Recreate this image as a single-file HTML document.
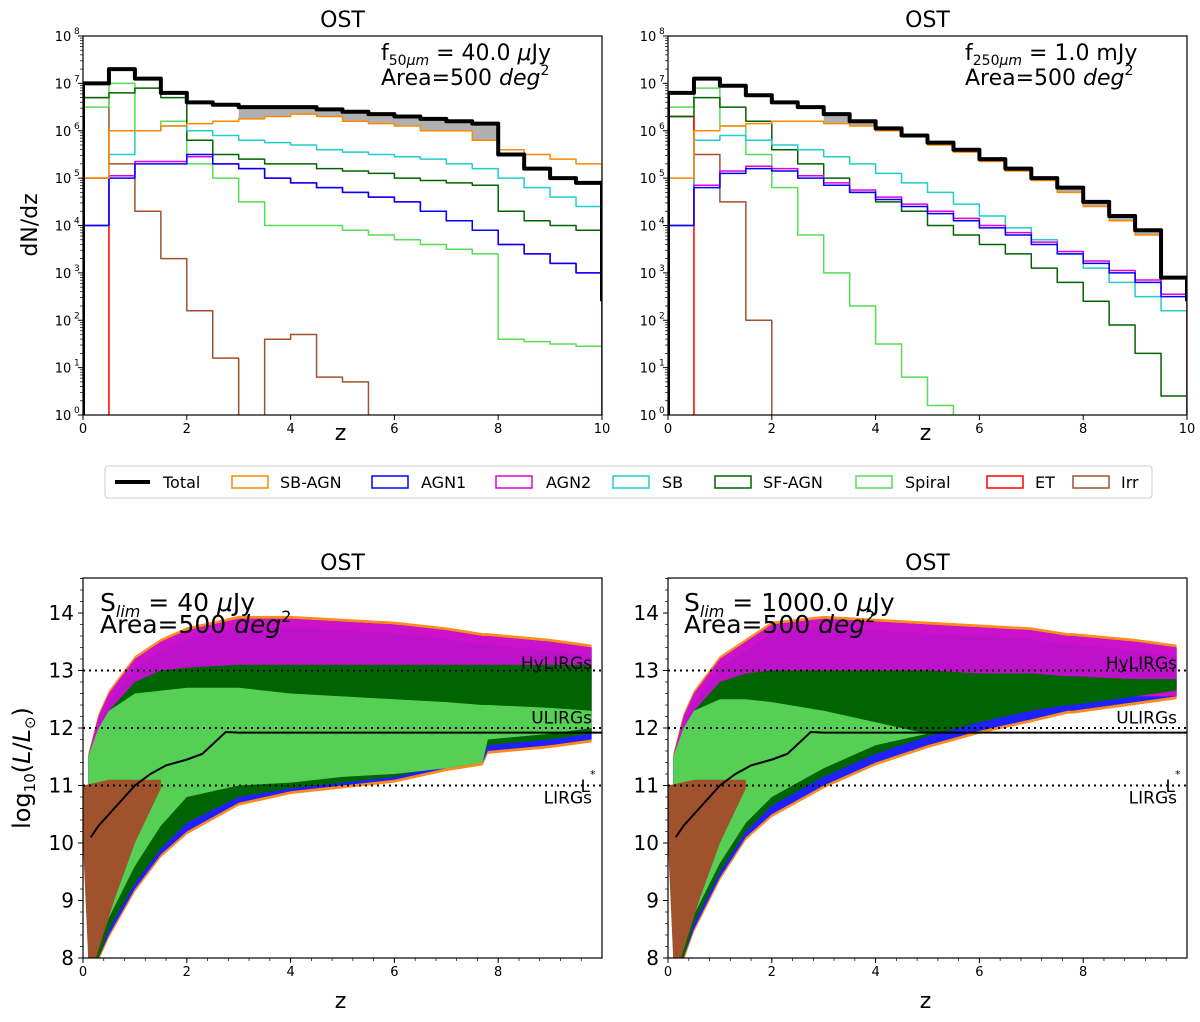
<!DOCTYPE html>
<html><head><meta charset="utf-8"><style>
body{margin:0;background:#fff;font-family:"Liberation Sans","DejaVu Sans",sans-serif}
svg text{font-family:"DejaVu Sans","Liberation Sans",sans-serif}
</style></head><body>
<svg id="fig" width="1200" height="1017" xmlns="http://www.w3.org/2000/svg">
<defs>
<clipPath id="c1"><rect x="83" y="36" width="519" height="379"/></clipPath>
<clipPath id="c2"><rect x="668" y="36" width="519" height="379"/></clipPath>
<clipPath id="c3"><rect x="83" y="578" width="519" height="380"/></clipPath>
<clipPath id="c4"><rect x="668" y="578" width="519" height="380"/></clipPath>
</defs>
</svg>
<script>
// ===== Histogram data (log10 dN/dz per 0.5-wide z bin, -1 = below axis) =====
const binWidth = 0.5;
const seriesNames = ["Total","SB-AGN","AGN1","AGN2","SB","SF-AGN","Spiral","ET","Irr"];
const L_total   = [7.0,7.3,7.1,6.8,6.6,6.55,6.5,6.5,6.5,6.45,6.4,6.35,6.3,6.25,6.2,6.15,5.5,5.2,5.0,4.9];
const L_sbagn   = [5.0,6.0,6.0,6.1,6.15,6.2,6.25,6.3,6.35,6.3,6.2,6.15,6.1,6.0,6.0,5.8,5.6,5.5,5.4,5.3];
const L_agn1    = [4.0,5.0,5.3,5.3,5.5,5.3,5.2,5.0,4.9,4.8,4.7,4.6,4.5,4.3,4.1,3.9,3.6,3.4,3.2,3.0];
const L_agn2    = [4.0,5.05,5.35,5.35,5.45,5.3,5.2,5.0,4.9,4.8,4.7,4.6,4.5,4.3,4.1,3.9,3.6,3.4,3.2,3.0];
const L_sb      = [4.0,5.5,6.0,6.1,6.0,5.9,5.8,5.75,5.7,5.6,5.55,5.5,5.45,5.4,5.3,5.2,5.0,4.8,4.6,4.4];
const L_sfagn   = [6.7,6.8,6.9,6.7,5.8,5.5,5.4,5.3,5.3,5.2,5.15,5.1,5.0,4.95,4.9,4.85,4.3,4.1,4.0,3.9];
const L_spiral  = [6.5,7.0,6.0,6.2,5.3,5.0,4.5,4.0,4.0,4.0,3.9,3.8,3.7,3.6,3.5,3.4,1.6,1.55,1.5,1.45];
const L_et      = [5.0,-1,-1,-1,-1,-1,-1,-1,-1,-1,-1,-1,-1,-1,-1,-1,-1,-1,-1,-1];
const L_irr     = [6.7,5.3,4.3,3.3,2.2,1.2,-1,1.6,1.7,0.8,0.7,-1,-1,-1,-1,-1,-1,-1,-1,-1];
const R_total   = [6.8,7.1,6.95,6.75,6.6,6.5,6.35,6.2,6.05,5.9,5.75,5.6,5.4,5.2,5.0,4.8,4.5,4.2,3.9,2.9];
const R_sbagn   = [5.0,6.0,6.1,6.15,6.2,6.2,6.15,6.1,6.0,5.9,5.7,5.55,5.35,5.15,4.95,4.7,4.4,4.1,3.8,2.9];
const R_agn1    = [4.0,4.8,5.1,5.2,5.15,5.0,4.85,4.7,4.55,4.4,4.25,4.1,3.95,3.8,3.6,3.4,3.2,3.0,2.8,2.5];
const R_agn2    = [4.0,4.85,5.15,5.25,5.2,5.05,4.9,4.75,4.6,4.45,4.3,4.15,4.0,3.85,3.65,3.45,3.25,3.05,2.85,2.55];
const R_sb      = [4.0,5.8,5.9,5.8,5.7,5.6,5.45,5.3,5.1,4.9,4.7,4.45,4.2,3.95,3.7,3.4,3.1,2.8,2.5,2.2];
const R_sfagn   = [6.3,6.7,6.5,6.2,5.6,5.3,5.0,4.7,4.5,4.3,4.0,3.8,3.6,3.4,3.1,2.8,2.4,1.9,1.3,0.4];
const R_spiral  = [6.5,6.9,6.1,5.5,4.8,3.8,3.0,2.3,1.5,0.8,0.2,-1,-1,-1,-1,-1,-1,-1,-1,-1];
const R_et      = [6.3,-1,-1,-1,-1,-1,-1,-1,-1,-1,-1,-1,-1,-1,-1,-1,-1,-1,-1,-1];
const R_irr     = [6.3,5.5,4.5,2.0,-1,-1,-1,-1,-1,-1,-1,-1,-1,-1,-1,-1,-1,-1,-1,-1];
const xTicksTop = [0,2,4,6,8,10];
const yTicksTop = [0,1,2,3,4,5,6,7,8];
// ===== Luminosity envelope data (z, log10 L) =====
const envZ      = [0.1,0.3,0.5,1,1.5,2,3,4,5,6,7,7.7,7.8,9,9.8];
const A_magUp   = [11.5,12.2,12.6,13.2,13.5,13.7,13.9,13.9,13.85,13.8,13.7,13.6,13.6,13.5,13.4];
const A_blueLo  = [7.5,8.0,8.4,9.2,9.8,10.2,10.7,10.9,11.0,11.1,11.3,11.4,11.6,11.7,11.8];
const A_dgUp    = [11.0,11.8,12.3,12.8,13.0,13.05,13.1,13.1,13.1,13.1,13.1,13.1,13.1,13.1,13.1];
const A_dgLo    = [7.6,8.0,8.5,9.3,9.9,10.35,10.8,10.95,11.05,11.15,11.35,11.45,11.7,11.8,11.9];
const A_lgUp    = [11.5,12.0,12.3,12.6,12.65,12.7,12.7,12.6,12.55,12.5,12.45,12.4,12.4,12.35,12.3];
const A_lgLo    = [7.8,8.2,8.7,9.6,10.3,10.8,11.0,11.05,11.15,11.2,11.3,11.4,11.8,11.9,12.0];
const B_magUp   = [11.5,12.2,12.6,13.2,13.5,13.8,13.9,13.85,13.8,13.75,13.7,13.6,13.6,13.5,13.4];
const B_blueLo  = [7.5,8.0,8.5,9.4,10.1,10.5,11.0,11.4,11.7,11.95,12.15,12.3,12.3,12.45,12.55];
const B_dgUp    = [11.0,11.8,12.3,12.8,12.95,13.0,13.0,13.0,13.0,12.95,12.95,12.9,12.9,12.85,12.85];
const B_dgLo    = [7.6,8.0,8.6,9.5,10.2,10.65,11.15,11.55,11.85,12.1,12.3,12.4,12.4,12.55,12.65];
const B_lgUp    = [11.5,12.0,12.3,12.5,12.5,12.45,12.3,12.1,11.9,12.2,12.4,12.5,12.5,12.6,12.7];
const B_lgLo    = [7.8,8.15,8.75,9.65,10.35,10.8,11.3,11.7,11.9,12.2,12.4,12.5,12.5,12.6,12.7];
const brownZ    = [0.0,0.1,0.25,0.6,1.0,1.5,1.5,1.0,0.5,0.0];
const brownL    = [10.0,8.0,8.0,9.0,10.0,10.95,11.1,11.1,11.1,11.0];
const lstarZ    = [0.15,0.3,0.5,0.8,1.0,1.3,1.6,2.0,2.3,2.75,3,4,6,8,10];
const lstarL    = [10.1,10.3,10.5,10.8,11.0,11.2,11.35,11.45,11.55,11.93,11.92,11.92,11.92,11.92,11.92];
const refLines  = [11,12,13];
const yTicksBot = [8,9,10,11,12,13,14];
const xTicksBot = [0,2,4,6,8];

const NS="http://www.w3.org/2000/svg", svg=document.getElementById('fig');
function el(tag,attrs,parent,text){const e=document.createElementNS(NS,tag);for(const k in attrs)e.setAttribute(k,attrs[k]);if(text!==undefined)e.textContent=text;(parent||svg).appendChild(e);return e;}

function histPanel(px,clip,data,name){
  const W=519,Y0=415,H=379;
  const X=z=>px+z/10*W, Y=v=>Y0-v/8*H;
  const g=el('g',{'clip-path':'url(#'+clip+')'});
  
  
  let top=[],bot=[];
  data.total.forEach((v,i)=>{const z=i*binWidth;if(z>=3){top.push(X(z)+','+Y(v),X(z+binWidth)+','+Y(v));}});
  data.sbagn.forEach((v,i)=>{const z=i*binWidth;if(z>=3){bot.push(X(z)+','+Y(Math.min(v,data.total[i])),X(z+binWidth)+','+Y(Math.min(v,data.total[i])));}});
  const band=el('polygon',{points:top.concat(bot.reverse()).join(' '),fill:'#b0b0b0'},g);
  
  
  const order=[['irr','#a0522d'],['et','#ff0000'],['spiral','#55dd55'],['sfagn','#006400'],['sb','#22cccc'],['agn2','#dd00dd'],['agn1','#0000ff'],['sbagn','#ff8800'],['total','#000']];
  order.forEach(([k,c])=>{
    const arr=data[k];let d='M'+X(0)+','+(Y0+5);
    arr.forEach((v,i)=>{const y=v<0?Y0+5:Y(v);d+=' L'+X(i*binWidth)+','+y+' L'+X((i+1)*binWidth)+','+y;});
    d+=' L'+X(10)+','+(k==='total'?Y(2.4):Y0+5);
    const p=el('path',{d:d,fill:'none',stroke:c,'stroke-width':k==='total'?4:1.5,'stroke-linejoin':'round'},g);
    
    
  });
  const fr=el('rect',{x:px,y:36,width:W,height:H,fill:'none',stroke:'#000','stroke-width':1.2});
  
  
  xTicksTop.forEach(t=>{el('line',{x1:X(t),x2:X(t),y1:Y0,y2:Y0+5,stroke:'#000'});
    const tx=el('text',{x:X(t),y:Y0+18,'font-size':13,'text-anchor':'middle'},svg,String(t));
    
    });
  yTicksTop.forEach(t=>{el('line',{x1:px-5,x2:px,y1:Y(t),y2:Y(t),stroke:'#000'});
    const tx=el('text',{x:px-20,y:Y(t)+5,'font-size':13,'text-anchor':'middle'},svg,'10');
    
    
    el('text',{x:px-9,y:Y(t)-2,'font-size':9},svg,String(t));
    for(let m=2;m<10&&t<8;m++){const yy=Y(t+Math.log10(m));el('line',{x1:px-3,x2:px,y1:yy,y2:yy,stroke:'#000','stroke-width':0.7});}
  });
  const ti=el('text',{x:px+W/2,y:27,'font-size':22,'text-anchor':'middle'},svg,'OST');
  
  
  const xl=el('text',{x:px+W/2-2,y:440,'font-size':22,'text-anchor':'middle'},svg,'z');
  
  
}
histPanel(83,'c1',{total:L_total,sbagn:L_sbagn,agn1:L_agn1,agn2:L_agn2,sb:L_sb,sfagn:L_sfagn,spiral:L_spiral,et:L_et,irr:L_irr},'left');
histPanel(668,'c2',{total:R_total,sbagn:R_sbagn,agn1:R_agn1,agn2:R_agn2,sb:R_sb,sfagn:R_sfagn,spiral:R_spiral,et:R_et,irr:R_irr},'right');

function lumPanel(px,clip,D,name){
  const W=519,Y0=958;
  const X=z=>px+z/10*W, Y=l=>Y0-(l-8)*57.5;
  const g=el('g',{'clip-path':'url(#'+clip+')'});
  
  
  function band(up,lo,col,nm,op){
    const pts=envZ.map((z,i)=>X(z)+','+Y(up[i])).concat(envZ.slice().reverse().map((z,j)=>X(z)+','+Y(lo[envZ.length-1-j])));
    const p=el('polygon',{points:pts.join(' '),fill:col,opacity:op||1},g);
    
    
  }
  band(D.magUp.map(v=>v+0.05),D.blueLo.map(v=>v-0.05),'#ff8c1a','sb-agn-points');
  band(D.magUp,D.blueLo,'#2020ff','agn1-points');
  band(D.magUp,D.dgUp.map(v=>v-0.3),'#cc11cc','agn2-points');
  band(D.magUp.map(v=>v-0.15),D.dgUp,'#b414c8','agn2-core',0.6);
  band(D.dgUp,D.dgLo,'#006400','sf-agn-points');
  band(D.lgUp,D.lgLo,'#55d055','spiral-points');
  const bp=el('polygon',{points:brownZ.map((z,i)=>X(z)+','+Y(brownL[i])).join(' '),fill:'#a0522d'},g);
  
  
  refLines.forEach(l=>{const ln=el('line',{x1:px,x2:px+W,y1:Y(l),y2:Y(l),stroke:'#000','stroke-width':2,'stroke-dasharray':'2,4'});
    
    });
  const ls=el('polyline',{points:lstarZ.map((z,i)=>X(z)+','+Y(lstarL[i])).join(' '),fill:'none',stroke:'#000','stroke-width':2},g);
  
  
  [['HyLIRGs',13.1],['ULIRGs',12.15],['LIRGs',10.76]].forEach(([t,l])=>{const tx=el('text',{x:px+W-10,y:Y(l)+4,'font-size':17,'text-anchor':'end'},svg,t);
    
    });
  const lst=el('text',{x:px+W-12,y:Y(11.1)+12,'font-size':17,'text-anchor':'end'},svg,'L');
  
  
  el('text',{x:px+W-12,y:Y(11.1)-2,'font-size':11},svg,'*');
  const fr=el('rect',{x:px,y:578,width:W,height:380,fill:'none',stroke:'#000','stroke-width':1.2});
  
  
  xTicksBot.forEach(t=>{el('line',{x1:X(t),x2:X(t),y1:Y0,y2:Y0+5,stroke:'#000'});
    const tx=el('text',{x:X(t),y:Y0+18,'font-size':13,'text-anchor':'middle'},svg,String(t));
    
    });
  for(let m=0;m<=10;m+=0.4)el('line',{x1:X(m),x2:X(m),y1:Y0,y2:Y0+3,stroke:'#000','stroke-width':0.7});
  yTicksBot.forEach(t=>{el('line',{x1:px-5,x2:px,y1:Y(t),y2:Y(t),stroke:'#000'});
    const tx=el('text',{x:px-9,y:Y(t)+7,'font-size':20,'text-anchor':'end'},svg,String(t));
    
    });
  for(let m=8;m<=14.6;m+=0.2)el('line',{x1:px-3,x2:px,y1:Y(m),y2:Y(m),stroke:'#000','stroke-width':0.7});
  const ti=el('text',{x:px+W/2,y:570,'font-size':22,'text-anchor':'middle'},svg,'OST');
  
  
  const xl=el('text',{x:px+W/2-2,y:1008,'font-size':22,'text-anchor':'middle'},svg,'z');
  
  
}
lumPanel(83,'c3',{magUp:A_magUp,blueLo:A_blueLo,dgUp:A_dgUp,dgLo:A_dgLo,lgUp:A_lgUp,lgLo:A_lgLo},'left');
lumPanel(668,'c4',{magUp:B_magUp,blueLo:B_blueLo,dgUp:B_dgUp,dgLo:B_dgLo,lgUp:B_lgUp,lgLo:B_lgLo},'right');
</script>
<svg style="position:absolute;left:0;top:0" width="1200" height="1017" xmlns="http://www.w3.org/2000/svg">
<g font-family="DejaVu Sans, Liberation Sans, sans-serif" font-size="22">
<text x="381" y="60">f<tspan font-size="14" dy="5">50</tspan><tspan font-size="14" font-style="italic">μm</tspan><tspan dy="-5"> = 40.0 </tspan><tspan font-style="italic">μ</tspan>Jy</text>
<text x="381" y="85">Area=500 <tspan font-style="italic">deg</tspan><tspan font-size="14" dy="-10">2</tspan></text>
<text x="965" y="60">f<tspan font-size="14" dy="5">250</tspan><tspan font-size="14" font-style="italic">μm</tspan><tspan dy="-5"> = 1.0 mJy</tspan></text>
<text x="965" y="85">Area=500 <tspan font-style="italic">deg</tspan><tspan font-size="14" dy="-10">2</tspan></text>
<text transform="translate(37,225) rotate(-90)" text-anchor="middle">dN/dz</text>
<text transform="translate(30,768) rotate(-90)" text-anchor="middle" font-size="24">log<tspan font-size="15" dy="5">10</tspan><tspan dy="-5">(</tspan><tspan font-style="italic">L</tspan>/<tspan font-style="italic">L</tspan><tspan font-size="15" dy="5">⊙</tspan><tspan dy="-5">)</tspan></text>
</g>
<g font-family="DejaVu Sans, Liberation Sans, sans-serif" font-size="25">
<text x="100" y="611">S<tspan font-size="16" font-style="italic" dy="6">lim</tspan><tspan dy="-6"> = 40 </tspan><tspan font-style="italic">μ</tspan>Jy</text>
<text x="100" y="633">Area=500 <tspan font-style="italic">deg</tspan><tspan font-size="16" dy="-11">2</tspan></text>
<text x="684" y="611">S<tspan font-size="16" font-style="italic" dy="6">lim</tspan><tspan dy="-6"> = 1000.0 </tspan><tspan font-style="italic">μ</tspan>Jy</text>
<text x="684" y="633">Area=500 <tspan font-style="italic">deg</tspan><tspan font-size="16" dy="-11">2</tspan></text>
</g>
<g font-family="DejaVu Sans, Liberation Sans, sans-serif" font-size="16">
<rect x="105" y="466" width="1047" height="32" rx="3" fill="#fff" stroke="#ccc"/>
<line x1="115" x2="150" y1="482" y2="482" stroke="#000" stroke-width="4"/><text x="163" y="488">Total</text>
<rect x="232" y="476" width="36" height="12" fill="none" stroke="#ff8800" stroke-width="1.5"/><text x="280" y="488">SB-AGN</text>
<rect x="372" y="476" width="36" height="12" fill="none" stroke="#0000ff" stroke-width="1.5"/><text x="421" y="488">AGN1</text>
<rect x="496" y="476" width="36" height="12" fill="none" stroke="#dd00dd" stroke-width="1.5"/><text x="546" y="488">AGN2</text>
<rect x="613" y="476" width="36" height="12" fill="none" stroke="#22cccc" stroke-width="1.5"/><text x="662" y="488">SB</text>
<rect x="715" y="476" width="36" height="12" fill="none" stroke="#006400" stroke-width="1.5"/><text x="763" y="488">SF-AGN</text>
<rect x="856" y="476" width="36" height="12" fill="none" stroke="#55dd55" stroke-width="1.5"/><text x="905" y="488">Spiral</text>
<rect x="987" y="476" width="36" height="12" fill="none" stroke="#ff0000" stroke-width="1.5"/><text x="1035" y="488">ET</text>
<rect x="1073" y="476" width="36" height="12" fill="none" stroke="#a0522d" stroke-width="1.5"/><text x="1121" y="488">Irr</text>
</g>
</svg>
</body></html>
